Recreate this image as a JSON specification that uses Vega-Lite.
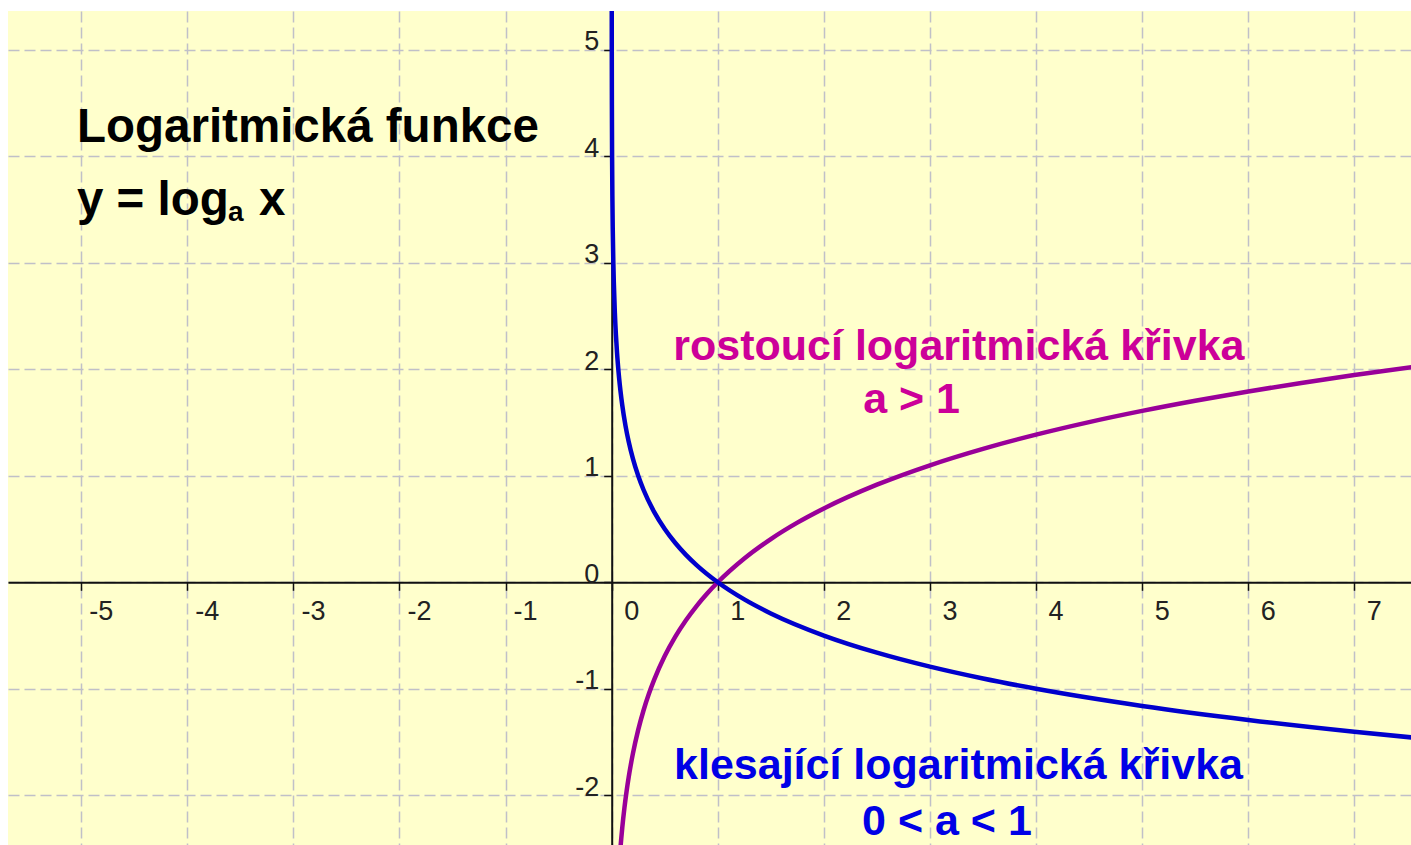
{
  "$schema": "https://vega.github.io/schema/vega-lite/v6.json",
  "width": 1403,
  "height": 834,
  "autosize": {"type": "none"},
  "padding": {"left": 8, "top": 11, "right": 0, "bottom": 0},
  "background": "white",
  "view": {"fill": "#FFFFCC", "stroke": null},
  "config": {
    "font": "Liberation Sans",
    "axis": {
      "grid": true,
      "gridColor": "#C0C0C8",
      "gridDash": [11, 5],
      "gridWidth": 1.5,
      "domainColor": "#111111",
      "domainWidth": 2,
      "tickColor": "#111111",
      "tickWidth": 1.5,
      "tickSize": 8,
      "labelFont": "Liberation Sans",
      "labelFontSize": 27,
      "labelColor": "#222222",
      "labelOverlap": false,
      "labelFlush": false,
      "labelExpr": "'' + datum.value",
      "title": null
    }
  },
  "layer": [
    {
      "data": {
        "values": [
          {"s": "rostoucí", "x": 0.08, "y": -2.5257},
          {"s": "rostoucí", "x": 0.09, "y": -2.4079},
          {"s": "rostoucí", "x": 0.1, "y": -2.3026},
          {"s": "rostoucí", "x": 0.12, "y": -2.1203},
          {"s": "rostoucí", "x": 0.14, "y": -1.9661},
          {"s": "rostoucí", "x": 0.16, "y": -1.8326},
          {"s": "rostoucí", "x": 0.18, "y": -1.7148},
          {"s": "rostoucí", "x": 0.2, "y": -1.6094},
          {"s": "rostoucí", "x": 0.25, "y": -1.3863},
          {"s": "rostoucí", "x": 0.3, "y": -1.204},
          {"s": "rostoucí", "x": 0.35, "y": -1.0498},
          {"s": "rostoucí", "x": 0.4, "y": -0.9163},
          {"s": "rostoucí", "x": 0.5, "y": -0.6931},
          {"s": "rostoucí", "x": 0.6, "y": -0.5108},
          {"s": "rostoucí", "x": 0.7, "y": -0.3567},
          {"s": "rostoucí", "x": 0.8, "y": -0.2231},
          {"s": "rostoucí", "x": 0.9, "y": -0.1054},
          {"s": "rostoucí", "x": 1, "y": 0},
          {"s": "rostoucí", "x": 1.25, "y": 0.2231},
          {"s": "rostoucí", "x": 1.5, "y": 0.4055},
          {"s": "rostoucí", "x": 1.75, "y": 0.5596},
          {"s": "rostoucí", "x": 2, "y": 0.6931},
          {"s": "rostoucí", "x": 2.5, "y": 0.9163},
          {"s": "rostoucí", "x": 3, "y": 1.0986},
          {"s": "rostoucí", "x": 3.5, "y": 1.2528},
          {"s": "rostoucí", "x": 4, "y": 1.3863},
          {"s": "rostoucí", "x": 4.5, "y": 1.5041},
          {"s": "rostoucí", "x": 5, "y": 1.6094},
          {"s": "rostoucí", "x": 5.5, "y": 1.7047},
          {"s": "rostoucí", "x": 6, "y": 1.7918},
          {"s": "rostoucí", "x": 6.5, "y": 1.8718},
          {"s": "rostoucí", "x": 7, "y": 1.9459},
          {"s": "rostoucí", "x": 7.6, "y": 2.0281},
          {"s": "klesající", "x": 0.0005, "y": 5.4829},
          {"s": "klesající", "x": 0.001, "y": 4.9829},
          {"s": "klesající", "x": 0.002, "y": 4.4829},
          {"s": "klesající", "x": 0.004, "y": 3.9829},
          {"s": "klesající", "x": 0.007, "y": 3.5792},
          {"s": "klesající", "x": 0.01, "y": 3.3219},
          {"s": "klesající", "x": 0.015, "y": 3.0294},
          {"s": "klesající", "x": 0.02, "y": 2.8219},
          {"s": "klesající", "x": 0.03, "y": 2.5295},
          {"s": "klesající", "x": 0.04, "y": 2.3219},
          {"s": "klesající", "x": 0.05, "y": 2.161},
          {"s": "klesající", "x": 0.07, "y": 1.9183},
          {"s": "klesající", "x": 0.1, "y": 1.661},
          {"s": "klesající", "x": 0.13, "y": 1.4717},
          {"s": "klesající", "x": 0.16, "y": 1.3219},
          {"s": "klesající", "x": 0.2, "y": 1.161},
          {"s": "klesající", "x": 0.25, "y": 1.0},
          {"s": "klesající", "x": 0.3, "y": 0.8685},
          {"s": "klesající", "x": 0.4, "y": 0.661},
          {"s": "klesající", "x": 0.5, "y": 0.5},
          {"s": "klesající", "x": 0.6, "y": 0.3685},
          {"s": "klesající", "x": 0.7, "y": 0.2573},
          {"s": "klesající", "x": 0.8, "y": 0.161},
          {"s": "klesající", "x": 1, "y": 0},
          {"s": "klesající", "x": 1.25, "y": -0.161},
          {"s": "klesající", "x": 1.5, "y": -0.2925},
          {"s": "klesající", "x": 2, "y": -0.5},
          {"s": "klesající", "x": 2.5, "y": -0.661},
          {"s": "klesající", "x": 3, "y": -0.7925},
          {"s": "klesající", "x": 3.5, "y": -0.9037},
          {"s": "klesající", "x": 4, "y": -1.0},
          {"s": "klesající", "x": 5, "y": -1.161},
          {"s": "klesající", "x": 6, "y": -1.2925},
          {"s": "klesající", "x": 7, "y": -1.4037},
          {"s": "klesající", "x": 7.6, "y": -1.463}
        ]
      },
      "mark": {"type": "line", "strokeWidth": 4.5, "interpolate": "monotone", "clip": true},
      "encoding": {
        "x": {
          "field": "x",
          "type": "quantitative",
          "scale": {"domain": [-5.69, 7.534], "nice": false, "zero": false},
          "axis": {
            "orient": "bottom",
            "offset": -262.7,
            "values": [-5, -4, -3, -2, -1, 0, 1, 2, 3, 4, 5, 6, 7],
            "labels": false
          }
        },
        "y": {
          "field": "y",
          "type": "quantitative",
          "scale": {"domain": [-2.467, 5.364], "nice": false, "zero": false},
          "axis": {
            "orient": "left",
            "offset": -603.7,
            "values": [-2, -1, 0, 1, 2, 3, 4, 5],
            "labelAlign": "right",
            "labelBaseline": "alphabetic",
            "labelDy": -6,
            "labelPadding": 5
          }
        },
        "color": {
          "field": "s",
          "type": "nominal",
          "scale": {"domain": ["rostoucí", "klesající"], "range": ["#990099", "#0000CC"]},
          "legend": null
        },
        "detail": {"field": "s"}
      }
    },
    {
      "data": {
        "values": [
          {"v": -5, "label": "-5"},
          {"v": -4, "label": "-4"},
          {"v": -3, "label": "-3"},
          {"v": -2, "label": "-2"},
          {"v": -1, "label": "-1"},
          {"v": 0, "label": "0"},
          {"v": 1, "label": "1"},
          {"v": 2, "label": "2"},
          {"v": 3, "label": "3"},
          {"v": 4, "label": "4"},
          {"v": 5, "label": "5"},
          {"v": 6, "label": "6"},
          {"v": 7, "label": "7"}
        ]
      },
      "mark": {"type": "text", "align": "center", "baseline": "alphabetic", "dx": 20, "dy": 38, "fontSize": 27, "color": "#222222", "font": "Liberation Sans"},
      "encoding": {
        "x": {"field": "v", "type": "quantitative"},
        "y": {"datum": 0, "type": "quantitative"},
        "text": {"field": "label", "type": "nominal"}
      }
    },
    {
      "data": {"values": [{}]},
      "mark": {"type": "text", "text": "Logaritmická funkce", "align": "left", "baseline": "alphabetic", "fontSize": 47.5, "fontWeight": "bold", "color": "#000000"},
      "encoding": {"x": {"datum": -5.04, "type": "quantitative"}, "y": {"datum": 4.137, "type": "quantitative"}}
    },
    {
      "data": {"values": [{}]},
      "mark": {"type": "text", "text": "y = log", "align": "left", "baseline": "alphabetic", "fontSize": 47.5, "fontWeight": "bold", "color": "#000000"},
      "encoding": {"x": {"datum": -5.04, "type": "quantitative"}, "y": {"datum": 3.449, "type": "quantitative"}}
    },
    {
      "data": {"values": [{}]},
      "mark": {"type": "text", "text": "a", "align": "left", "baseline": "alphabetic", "fontSize": 28, "fontWeight": "bold", "color": "#000000"},
      "encoding": {"x": {"datum": -3.616, "type": "quantitative"}, "y": {"datum": 3.392, "type": "quantitative"}}
    },
    {
      "data": {"values": [{}]},
      "mark": {"type": "text", "text": "x", "align": "left", "baseline": "alphabetic", "fontSize": 47.5, "fontWeight": "bold", "color": "#000000"},
      "encoding": {"x": {"datum": -3.324, "type": "quantitative"}, "y": {"datum": 3.449, "type": "quantitative"}}
    },
    {
      "data": {"values": [{}]},
      "mark": {"type": "text", "text": "rostoucí logaritmická křivka", "align": "center", "baseline": "alphabetic", "fontSize": 43, "fontWeight": "bold", "color": "#CC0099"},
      "encoding": {"x": {"datum": 3.273, "type": "quantitative"}, "y": {"datum": 2.089, "type": "quantitative"}}
    },
    {
      "data": {"values": [{}]},
      "mark": {"type": "text", "text": "a > 1", "align": "center", "baseline": "alphabetic", "fontSize": 43, "fontWeight": "bold", "color": "#CC0099"},
      "encoding": {"x": {"datum": 2.827, "type": "quantitative"}, "y": {"datum": 1.59, "type": "quantitative"}}
    },
    {
      "data": {"values": [{}]},
      "mark": {"type": "text", "text": "klesající logaritmická křivka", "align": "center", "baseline": "alphabetic", "fontSize": 43, "fontWeight": "bold", "color": "#0000E6"},
      "encoding": {"x": {"datum": 3.269, "type": "quantitative"}, "y": {"datum": -1.847, "type": "quantitative"}}
    },
    {
      "data": {"values": [{}]},
      "mark": {"type": "text", "text": "0 < a < 1", "align": "center", "baseline": "alphabetic", "fontSize": 43, "fontWeight": "bold", "color": "#0000E6"},
      "encoding": {"x": {"datum": 3.16, "type": "quantitative"}, "y": {"datum": -2.373, "type": "quantitative"}}
    }
  ]
}
